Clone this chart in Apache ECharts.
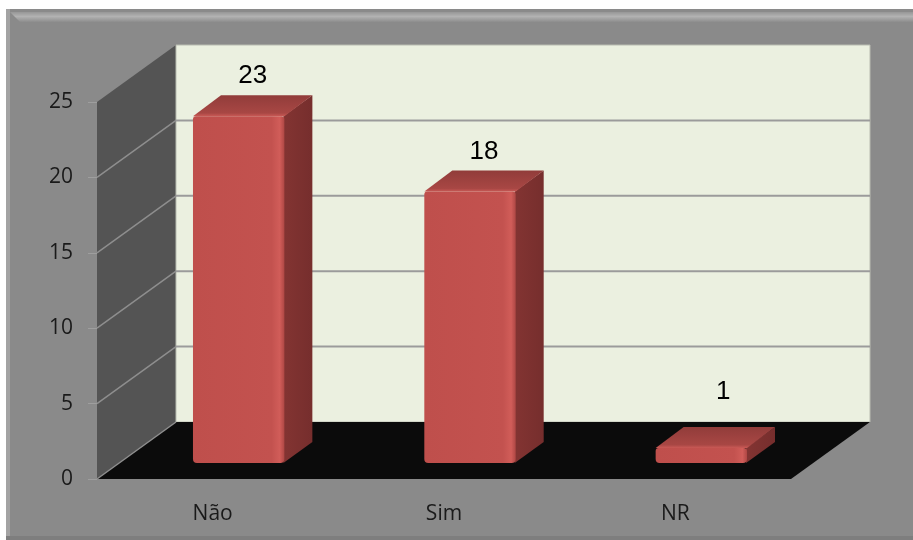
<!DOCTYPE html>
<html>
<head>
<meta charset="utf-8">
<script src="https://cdn.jsdelivr.net/npm/echarts@6/dist/echarts.min.js"></script>
<style>
  html, body { margin: 0; padding: 0; background: #ffffff; }
  #chart { width: 913px; height: 540px; }
</style>
</head>
<body>
<div id="chart"></div>
<script>
// Chart data
const categories = ['Não', 'Sim', 'NR'];
const values = [23, 18, 1];
const yMin = 0, yMax = 25, yStep = 5;

// 3D projection of the plot box: depth vector from the front plane to the back wall
const DX = 79, DY = -57;
// Bar placement inside the depth: front face offset and bar depth
const BAR_FRONT = [26, -16];
const BAR_DEPTH = [28, -21];
const BAR_WIDTH = 0.395; // share of the category band

const chart = echarts.init(document.getElementById('chart'), null, { renderer: 'canvas' });

function wallsRender(params, api) {
  const cs = params.coordSys;
  const x0 = cs.x, x1 = cs.x + cs.width;
  const yB = api.coord([0, yMin])[1];
  const yT = api.coord([0, yMax])[1];
  const children = [];
  // left wall
  children.push({
    type: 'polygon',
    shape: { points: [[x0, yT], [x0, yB], [x0 + DX, yB + DY], [x0 + DX, yT + DY]] },
    style: { fill: '#545454' }
  });
  // back wall
  children.push({
    type: 'rect',
    shape: { x: x0 + DX, y: yT + DY, width: x1 - x0, height: yB - yT },
    style: { fill: '#ebf0e0', stroke: '#b9bcb1', lineWidth: 1 }
  });
  // floor
  children.push({
    type: 'polygon',
    shape: { points: [[x0, yB], [x1, yB], [x1 + DX, yB + DY], [x0 + DX, yB + DY]] },
    style: { fill: '#0b0b0b' }
  });
  // gridlines on the walls
  for (let v = yMin; v < yMax; v += yStep) {
    const y = api.coord([0, v])[1];
    children.push({
      type: 'line',
      shape: { x1: x0, y1: y, x2: x0 + DX, y2: y + DY },
      style: { stroke: '#8e8e8e', lineWidth: 1.5 }
    });
    if (v > yMin) {
      children.push({
        type: 'line',
        shape: { x1: x0 + DX, y1: y + DY, x2: x1 + DX, y2: y + DY },
        style: { stroke: '#9b9b9b', lineWidth: 2 }
      });
    }
  }
  return { type: 'group', children: children };
}

function barRender(params, api) {
  const i = api.value(0), v = api.value(1);
  const base = api.coord([i, yMin]);
  const top = api.coord([i, v]);
  const band = api.size([1, 0])[0];
  const w = band * BAR_WIDTH;
  const cx = base[0] + BAR_FRONT[0];
  const L = cx - w / 2, R = cx + w / 2;
  const yb = base[1] + BAR_FRONT[1];
  const yt = top[1] + BAR_FRONT[1];
  const bx = BAR_DEPTH[0], by = BAR_DEPTH[1];
  const children = [];
  // side face
  children.push({
    type: 'polygon',
    shape: { points: [[R - 1, yt], [R - 1, yb], [R + bx, yb + by], [R + bx, yt + by]] },
    style: {
      fill: new echarts.graphic.LinearGradient(0, 0, 1, 0, [
        { offset: 0, color: '#833432' },
        { offset: 1, color: '#762e2d' }
      ])
    }
  });
  // top face
  children.push({
    type: 'polygon',
    shape: { points: [[L, yt], [R, yt], [R + bx, yt + by], [L + bx, yt + by]] },
    style: {
      fill: new echarts.graphic.LinearGradient(0, 1, 0, 0, [
        { offset: 0, color: '#c95955' },
        { offset: 0.15, color: '#a84744' },
        { offset: 1, color: '#913c3a' }
      ])
    }
  });
  // front face
  children.push({
    type: 'rect',
    shape: { x: L, y: yt, width: w, height: yb - yt, r: [3, 3, 4, 4] },
    style: {
      fill: new echarts.graphic.LinearGradient(0, 0, 1, 0, [
        { offset: 0, color: '#bf4f4c' },
        { offset: 0.86, color: '#c3524f' },
        { offset: 0.95, color: '#d15d59' },
        { offset: 1, color: '#ae4744' }
      ])
    }
  });
  // value label above the bar top, kept clear of the floor
  const floorBack = base[1] + DY;
  const ly = Math.min(yt + by - 19, floorBack - 30);
  children.push({
    type: 'text',
    style: {
      text: String(v),
      x: cx + bx / 2 + (ly < yt + by - 19 ? 8 : 0),
      y: ly,
      align: 'center',
      verticalAlign: 'middle',
      fontFamily: 'Liberation Sans, Arial, sans-serif',
      fontSize: 26,
      fill: '#000000'
    }
  });
  return { type: 'group', children: children };
}

const option = {
  backgroundColor: '#ffffff',
  animation: false,
  graphic: {
    elements: [
      // chart area frame
      { type: 'rect', z: -10, shape: { x: 6, y: 9, width: 907, height: 531 }, style: { fill: '#8a8a8a' } },
      { type: 'rect', z: -9, shape: { x: 6, y: 9, width: 4, height: 531 }, style: { fill: '#a3a3a3' } },
      {
        type: 'polygon', z: -9,
        shape: { points: [[10, 12], [913, 12], [913, 22], [20, 22]] },
        style: {
          fill: new echarts.graphic.LinearGradient(0, 0, 0, 1, [
            { offset: 0, color: '#979797' },
            { offset: 0.45, color: '#b2b2b2' },
            { offset: 1, color: '#8d8d8d' }
          ])
        }
      },
      { type: 'rect', z: -9, shape: { x: 6, y: 536, width: 907, height: 4 }, style: { fill: '#7e7e7e' } }
    ]
  },
  grid: { left: 97, right: 122, top: 102, bottom: 61, containLabel: false },
  xAxis: {
    type: 'category',
    data: categories,
    axisLine: { show: false },
    axisTick: { show: false },
    axisLabel: {
      margin: 25,
      fontFamily: 'Open Sans, sans-serif',
      fontSize: 21,
      color: '#1a1a1a'
    }
  },
  yAxis: {
    type: 'value',
    min: yMin,
    max: yMax,
    interval: yStep,
    axisLine: { show: false },
    axisTick: { show: true, length: 9, lineStyle: { color: '#9e9e9e', width: 1 } },
    splitLine: { show: false },
    axisLabel: {
      margin: 24,
      fontFamily: 'Open Sans, sans-serif',
      fontSize: 21,
      color: '#1a1a1a'
    }
  },
  series: [
    {
      type: 'custom',
      z: 1,
      silent: true,
      renderItem: wallsRender,
      data: [[0, 0]]
    },
    {
      type: 'custom',
      z: 3,
      renderItem: barRender,
      data: values.map((v, i) => [i, v])
    }
  ]
};

chart.setOption(option);
</script>
</body>
</html>
